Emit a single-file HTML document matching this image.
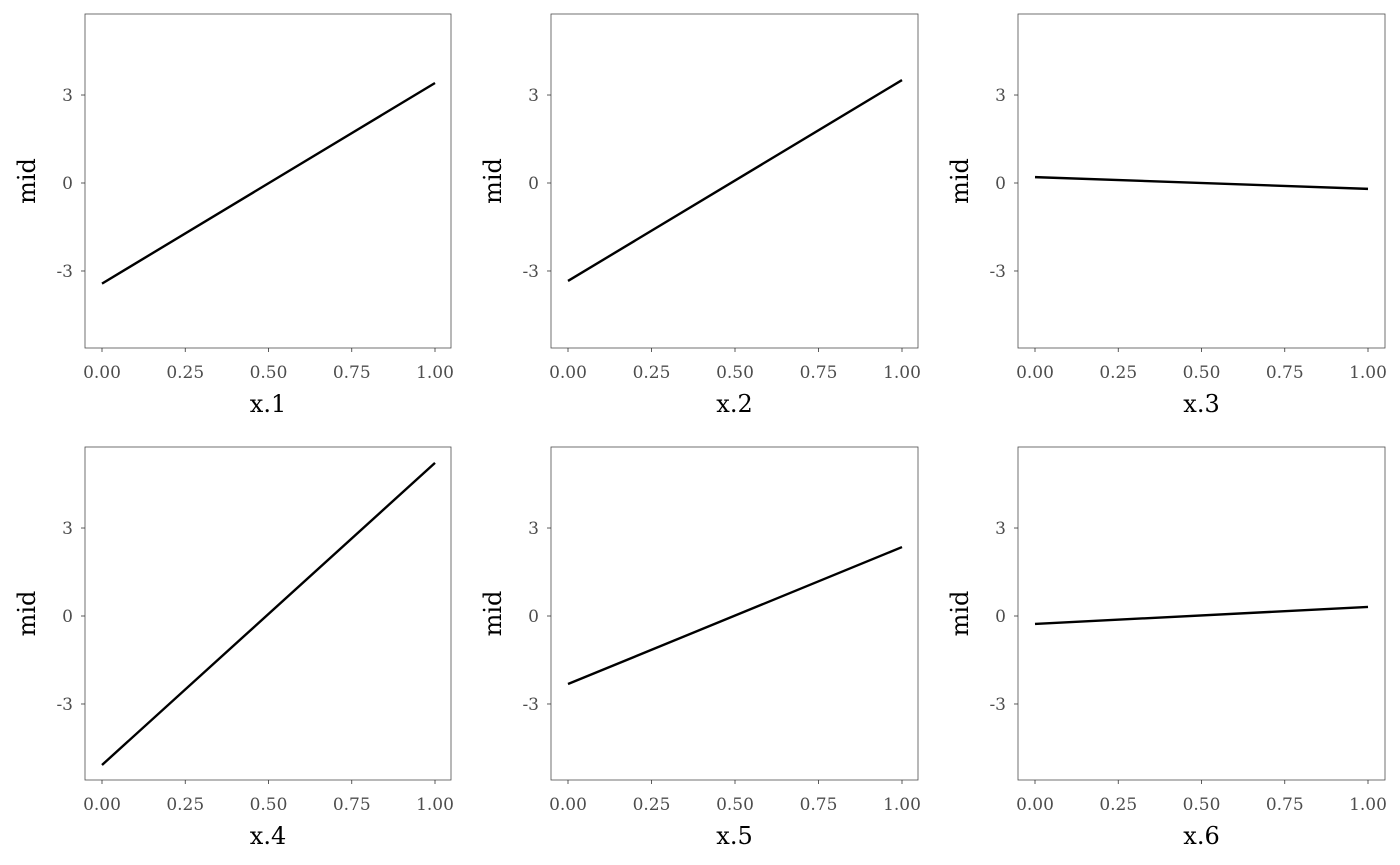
<!DOCTYPE html>
<html><head><meta charset="utf-8">
<style>
html,body{margin:0;padding:0;background:#fff;}
svg{display:block;}
text{font-family:"DejaVu Serif","Liberation Serif",serif;}
</style></head>
<body>
<svg id="chart" width="1400" height="865" viewBox="0 0 1400 865" xmlns="http://www.w3.org/2000/svg"></svg>
<script>
const panelNames = ["x.1","x.2","x.3","x.4","x.5","x.6"];
const startValues = [-3.43,-3.34,0.2,-5.08,-2.32,-0.27];
const endValues = [3.41,3.51,-0.2,5.22,2.35,0.31];
const xTicks = [0,0.25,0.5,0.75,1];
const xTickLabels = ["0.00","0.25","0.50","0.75","1.00"];
const yTicks = [3,0,-3];
const yTickLabels = ["3","0","-3"];

const NS="http://www.w3.org/2000/svg";
const svg=document.getElementById('chart');
function mk(tag,attrs,parent){const e=document.createElementNS(NS,tag);for(const k in attrs)e.setAttribute(k,attrs[k]);(parent||svg).appendChild(e);return e;}
const cols=[{l:85,r:451,x0:102,x1:435},{l:551,r:918,x0:568,x1:902},{l:1018,r:1385,x0:1035,x1:1368}];
const rows=[{t:14,b:348,y0:183},{t:447,b:780,y0:616}];
const pxPerUnit=29.33;
panelNames.forEach((name,i)=>{
  const c=cols[i%3], r=rows[Math.floor(i/3)];
  const g=mk('g',{});
  
  
  const xs=v=>c.x0+(c.x1-c.x0)*v;
  const ys=v=>r.y0-v*pxPerUnit;
  const box=mk('rect',{x:c.l,y:r.t,width:c.r-c.l,height:r.b-r.t,fill:'none',stroke:'#4d4d4d','stroke-width':0.8},g);
  
  
  xTicks.forEach((t,j)=>{
    const x=xs(t);
    mk('line',{x1:x,x2:x,y1:r.b,y2:r.b+4,stroke:'#333','stroke-width':0.8},g);
    const tx=mk('text',{x:x,y:r.b+30,'text-anchor':'middle','font-size':17,fill:'#4d4d4d'},g);
    tx.textContent=xTickLabels[j];
    
    
  });
  yTicks.forEach((t,j)=>{
    const y=ys(t);
    mk('line',{x1:c.l-4,x2:c.l,y1:y,y2:y,stroke:'#333','stroke-width':0.8},g);
    const ty=mk('text',{x:c.l-12,y:y+6,'text-anchor':'end','font-size':17,fill:'#4d4d4d'},g);
    ty.textContent=yTickLabels[j];
    
    
  });
  const ln=mk('line',{x1:xs(0),y1:ys(startValues[i]),x2:xs(1),y2:ys(endValues[i]),stroke:'#000','stroke-width':2.4},g);
  
  
  const xt=mk('text',{x:(c.l+c.r)/2,y:r.b+64,'text-anchor':'middle','font-size':24,fill:'#000'},g);
  xt.textContent=name;
  
  
  const cy=(r.t+r.b)/2;
  const yt=mk('text',{x:c.l-50,y:cy,'text-anchor':'middle','font-size':24,fill:'#000',transform:`rotate(-90 ${c.l-50} ${cy})`},g);
  yt.textContent='mid';
  
  
});
</script>
</body></html>
